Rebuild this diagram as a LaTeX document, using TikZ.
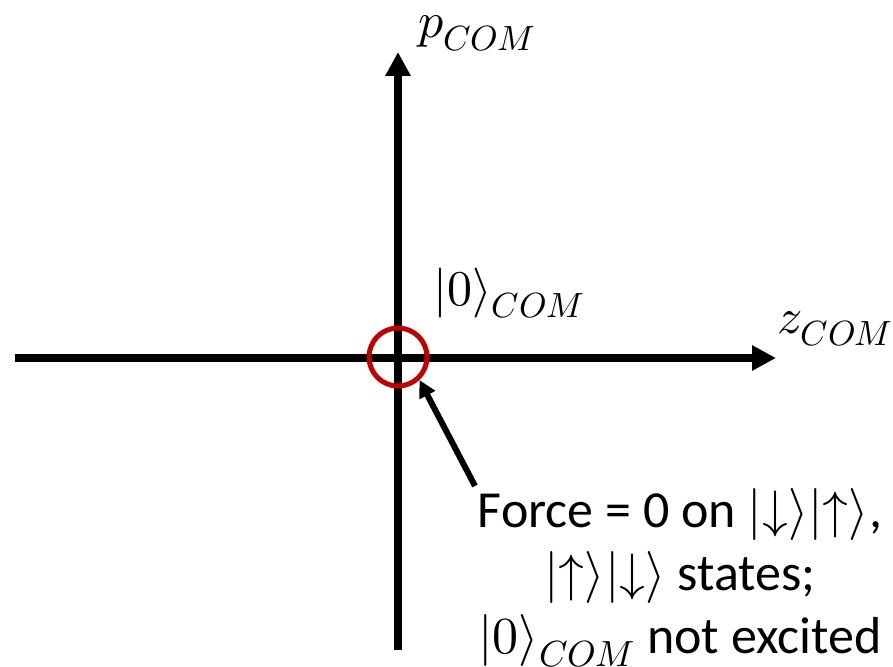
\documentclass[tikz,border=0pt]{standalone}
\usepackage{fontspec}
\usepackage{unicode-math}
\setmainfont{Carlito}
\setmathfont{Latin Modern Math}
\usetikzlibrary{arrows.meta}
\definecolor{ringred}{RGB}{192,0,0}
\tikzset{
  axis/.style={line width=8pt,-{Triangle[length=24pt,width=24pt]}},
  pointer/.style={line width=6pt,-{Triangle[length=17pt,width=17pt]}},
  mathlabel/.style={inner sep=0pt,font=\fontsize{50}{60}\selectfont},
}
\begin{document}
\begin{tikzpicture}[x=1pt,y=-1pt,font=\fontsize{52}{63}\selectfont]
\useasboundingbox (0,0) rectangle (893,666);

% phase space axes
\coordinate (zmin) at (15,358);
\coordinate (zmax) at (776,358);
\coordinate (pmin) at (398,650);
\coordinate (pmax) at (398,52);
\draw[axis] (zmin) -- (zmax);
\draw[axis] (pmin) -- (pmax);

\node[mathlabel,anchor=base west] (plabel) at (418,38) {$p_{COM}$};
\node[mathlabel,anchor=base west] (zlabel) at (777,333) {$z_{COM}$};

% ground state
\node[circle,draw=ringred,line width=5pt,minimum size=58pt,inner sep=0pt] (ground) at (398,357) {};
\node[mathlabel,anchor=base west] (glabel) at (433,305) {$|0\rangle_{COM}$};

% note
\node[align=center,anchor=north,inner sep=0pt] (note) at (680,488)
  {Force = 0 on $|{\downarrow}\rangle|{\uparrow}\rangle$,\\
   $|{\uparrow}\rangle|{\downarrow}\rangle$ states;\\
   $|0\rangle_{COM}$ not excited};
\coordinate (tail) at (475,486);
\draw[pointer] (tail) -- (ground.-47);
\end{tikzpicture}
\end{document}
